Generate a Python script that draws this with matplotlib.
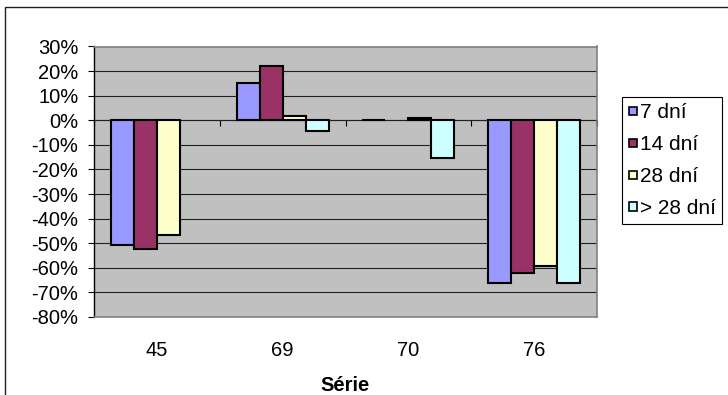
import numpy as np
import matplotlib
matplotlib.use("Agg")
import matplotlib.pyplot as plt
from matplotlib.patches import Rectangle
from matplotlib.legend_handler import HandlerPatch

plt.rcParams['font.family'] = ['Liberation Sans', 'DejaVu Sans']

categories = ["45", "69", "70", "76"]
series_names = ["7 dní", "14 dní", "28 dní", "> 28 dní"]
v7 = [-0.508, 0.151, 0.0, -0.661]
v14 = [-0.522, 0.220, np.nan, -0.623]
v28 = [-0.465, 0.017, 0.008, -0.591]
v28p = [np.nan, -0.044, -0.153, -0.661]
colors = ["#9999FF", "#993366", "#FFFFCC", "#CCFFFF"]
yticks = [0.3, 0.2, 0.1, 0.0, -0.1, -0.2, -0.3, -0.4, -0.5, -0.6, -0.7, -0.8]
xlabel = "Série"

W, H = 728, 395
fig = plt.figure(figsize=(W / 100, H / 100), dpi=100)
ax = fig.add_axes([94 / W, 1 - 317 / H, 503 / W, 270.5 / H])
ax.set_facecolor("#C0C0C0")

x = np.arange(len(categories))
bw = 0.183
bars = []
for i, (vals, name, col) in enumerate(zip([v7, v14, v28, v28p], series_names, colors)):
    v = np.array(vals, dtype=float)
    m = ~np.isnan(v)
    b = ax.bar(x[m] + (i - 1.5) * bw, v[m], width=bw, color=col, edgecolor="black",
               linewidth=1.5, label=name, zorder=3)
    bars.append(b)

ax.set_xlim(-0.5, len(categories) - 0.5)
ax.set_ylim(min(yticks), max(yticks))
ax.set_yticks(yticks)
ax.set_yticklabels([f"{round(t * 100):d}%" for t in yticks])
ax.yaxis.grid(True, color="#202020", linewidth=0.8, zorder=1)
ax.set_axisbelow(True)

ax.set_xticks(x)
ax.set_xticklabels(categories)
ax.tick_params(axis="x", length=0, pad=17, labelsize=14.5)
ax.tick_params(axis="y", direction="out", length=4.3, width=0.8, pad=7, labelsize=14.5)

for s in ["top", "right", "bottom"]:
    ax.spines[s].set_color("#808080")
    ax.spines[s].set_linewidth(1.2)
ax.spines["left"].set_color("black")
ax.spines["left"].set_linewidth(1.0)

# category axis crossing at 0
pos0 = (0 - min(yticks)) / (max(yticks) - min(yticks))
sec = ax.secondary_xaxis(pos0)
sec.set_xticks(np.arange(len(categories) + 1) - 0.5)
sec.tick_params(direction="in", length=4.5, width=0.8, labeltop=False, labelbottom=False)
sec.spines["top"].set_color("#404040")
sec.spines["top"].set_linewidth(0.8)

ax.set_xlabel(xlabel, fontsize=14.5, fontweight="bold", labelpad=12)


def square(legend, orig_handle, xdescent, ydescent, width, height, fontsize):
    s = 0.4 * fontsize
    return Rectangle((-xdescent + (width - s) / 2, -ydescent + (height - s) / 2), s, s)


sq_handler = HandlerPatch(patch_func=square)
handles = [b.patches[0] for b in bars]
leg = fig.legend(handles, series_names, handler_map={Rectangle: sq_handler},
                 loc="upper left", bbox_to_anchor=(622 / W, 1 - 97 / H),
                 bbox_transform=fig.transFigure, borderaxespad=0, fontsize=15,
                 frameon=True, fancybox=False, edgecolor="black", framealpha=1,
                 handlelength=0.45, handleheight=0.6, handletextpad=0.12,
                 labelspacing=0.62, borderpad=0.3)
leg.get_frame().set_linewidth(0.8)
for h in leg.legend_handles:
    h.set_linewidth(1.2)

fig.patches.append(Rectangle((5 / W, -0.05), 1.2, 1 - 7 / H + 0.05, transform=fig.transFigure,
                             fill=False, edgecolor="#202020", linewidth=1.0))

fig.savefig("out.png", dpi=100, facecolor="white")
